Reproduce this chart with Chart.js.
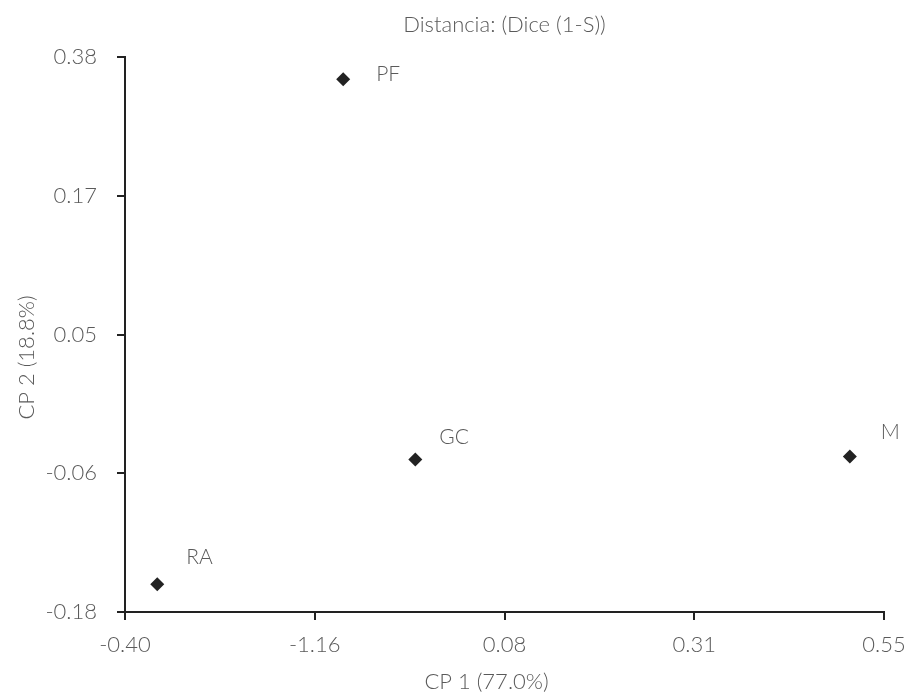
<!DOCTYPE html>
<html>
<head>
<meta charset="utf-8">
<script src="https://cdn.jsdelivr.net/npm/chart.js@4/dist/chart.umd.min.js"></script>
<style>
html,body{margin:0;padding:0;background:#fff;}
#c{display:block;}
</style>
</head>
<body>
<canvas id="c" width="919" height="698"></canvas>
<script>
// Tick labels as printed on the original (evenly spaced positions 0..4)
const xTickLabels = ['-0.40', '-1.16', '0.08', '0.31', '0.55'];
const yTickLabels = ['-0.18', '-0.06', '0.05', '0.17', '0.38'];

// Points (in tick-position units)
const pointNames = ['PF', 'GC', 'M', 'RA'];
const pointX = [1.15, 1.53, 3.82, 0.17];
const pointY = [3.84, 1.10, 1.12, 0.20];

// label offsets (px) relative to each marker
const labelDX = [33, 24, 31, 29];
const labelDY = [-5, -22, -24, -27];

const titleText = 'Distancia: (Dice (1-S))';
const xTitle = 'CP 1 (77.0%)';
const yTitle = 'CP 2 (18.8%)';

const FONT = 'Lato, "Open Sans", sans-serif';
const GREY = '#5a5a5a';
const AXIS = '#222';

const labelPlugin = {
  id: 'pointLabels',
  afterDatasetsDraw(chart) {
    const ctx = chart.ctx;
    const meta = chart.getDatasetMeta(0);
    ctx.save();
    ctx.font = '300 21px ' + FONT;
    ctx.fillStyle = GREY;
    ctx.textAlign = 'left';
    ctx.textBaseline = 'middle';
    meta.data.forEach((el, i) => {
      ctx.fillText(pointNames[i], el.x + labelDX[i], el.y + labelDY[i]);
    });
    ctx.restore();
  }
};

const titles = {
  id: 'titles',
  afterDraw(chart) {
    const ctx = chart.ctx;
    const a = chart.chartArea;
    ctx.save();
    ctx.fillStyle = GREY;
    ctx.textAlign = 'center';
    ctx.textBaseline = 'middle';
    ctx.font = '300 22px ' + FONT;
    ctx.fillText(titleText, (a.left + a.right) / 2, 25);
    ctx.font = '300 22px ' + FONT;
    ctx.fillText(xTitle, (a.left + a.right) / 2 - 18, 682);
    ctx.translate(27, (a.top + a.bottom) / 2 + 23);
    ctx.rotate(-Math.PI / 2);
    ctx.fillText(yTitle, 0, 0);
    ctx.restore();
  }
};

new Chart(document.getElementById('c'), {
  type: 'scatter',
  data: {
    datasets: [{
      data: pointX.map((x, i) => ({x: x, y: pointY[i]})),
      pointStyle: 'rectRot',
      pointRadius: 7,
      pointHoverRadius: 7,
      backgroundColor: '#222',
      borderColor: '#222',
      borderWidth: 0
    }]
  },
  options: {
    responsive: false,
    devicePixelRatio: 1,
    animation: false,
    layout: {padding: {top: 57, right: 35, left: 0, bottom: 0}},
    plugins: {legend: {display: false}, tooltip: {enabled: false}, title: {display: false}},
    scales: {
      x: {
        type: 'linear', min: 0, max: 4,
        afterFit(s) { s.height = 86; },
        afterBuildTicks(s) { s.ticks = xTickLabels.map((_, i) => ({value: i})); },
        ticks: {
          stepSize: 1, padding: 12, color: GREY,
          font: {family: FONT, size: 22, weight: '300'},
          callback: (v) => xTickLabels[v]
        },
        grid: {display: true, drawOnChartArea: false, drawTicks: true, tickLength: 8, color: AXIS, lineWidth: 2},
        border: {display: true, color: AXIS, width: 2},
        title: {display: false}
      },
      y: {
        type: 'linear', min: 0, max: 4,
        afterFit(s) { s.width = 125; },
        afterBuildTicks(s) { s.ticks = yTickLabels.map((_, i) => ({value: i})); },
        ticks: {
          stepSize: 1, padding: 20, color: GREY,
          font: {family: FONT, size: 22, weight: '300'},
          callback: (v) => yTickLabels[v]
        },
        grid: {display: true, drawOnChartArea: false, drawTicks: true, tickLength: 8, color: AXIS, lineWidth: 2},
        border: {display: true, color: AXIS, width: 2},
        title: {display: false}
      }
    }
  },
  plugins: [labelPlugin, titles]
});
</script>
</body>
</html>
